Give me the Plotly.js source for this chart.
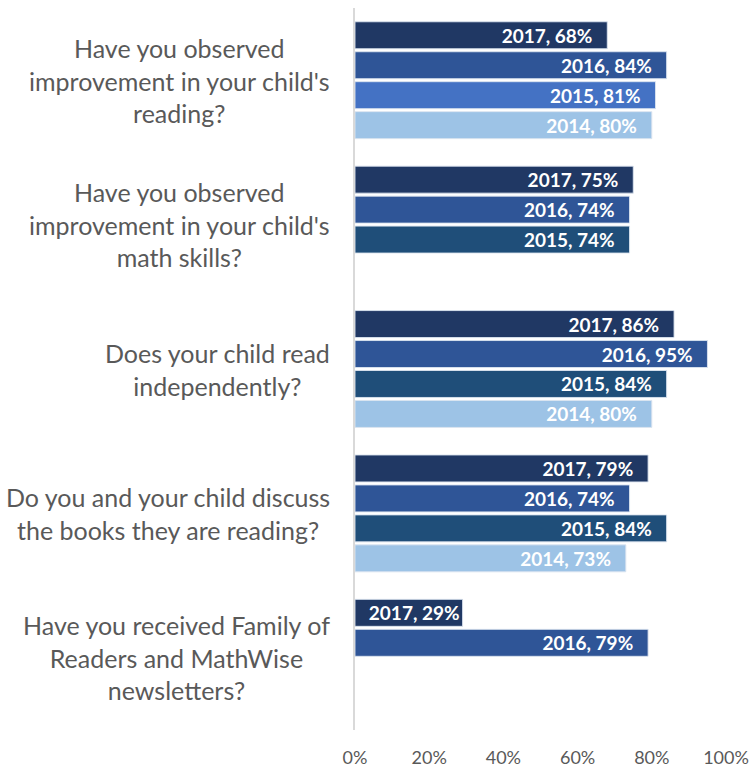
<!DOCTYPE html>
<html>
<head>
<meta charset="utf-8">
<script src="https://cdn.plot.ly/plotly-3.0.1.min.js"></script>
<style>html,body{margin:0;padding:0;background:#fff;}#chart{width:749px;height:768px;}</style>
</head>
<body>
<div id="chart"></div>
<script>
const categories = [
  "Have you observed<br>improvement in your child's<br>reading?",
  "Have you observed<br>improvement in your child's<br>math skills?",
  "Does your child read<br>independently?",
  "Do you and your child discuss<br>the books they are reading?",
  "Have you received Family of<br>Readers and MathWise<br>newsletters?"
];
const years = ["2017", "2016", "2015", "2014"];
const v2017 = [68, 75, 86, 79, 29];
const v2016 = [84, 74, 95, 74, 79];
const v2015 = [81, 74, 84, 84, null];
const v2014 = [80, null, 80, 73, null];
const xTicks = [0, 20, 40, 60, 80, 100];

const series = [v2017, v2016, v2015, v2014];
const colors = [
  ["#203864", "#203864", "#203864", "#203864", "#203864"],
  ["#2F5597", "#2F5597", "#2F5597", "#2F5597", "#2F5597"],
  ["#4472C4", "#1F4E79", "#1F4E79", "#1F4E79", "#1F4E79"],
  ["#9DC3E6", "#9DC3E6", "#9DC3E6", "#9DC3E6", "#9DC3E6"]
];

const traces = series.map((vals, i) => ({
  type: 'bar',
  orientation: 'h',
  name: years[i],
  y: categories,
  x: vals,
  marker: {color: colors[i], line: {color: 'rgba(220,228,240,0.9)', width: 1}},
  text: vals.map(v => v == null ? '' : (years[i] + ', ' + v + '%' + (v > 40 ? '\u2002\u2009' : ''))),
  textposition: 'inside',
  insidetextanchor: 'end',
  textangle: 0,
  constraintext: 'none',
  textfont: {family: 'Lato', size: 19, color: '#ffffff', weight: 'bold'},
  hoverinfo: 'skip',
  cliponaxis: false
}));

const annotations = categories.map(c => ({
  xref: 'paper', yref: 'y',
  x: -0.062, y: c,
  xanchor: 'right', yanchor: 'middle',
  align: 'center',
  text: c,
  showarrow: false,
  font: {family: 'Lato', size: 25, color: '#595959'}
}));

const layout = {
  width: 749, height: 768,
  margin: {l: 355, r: 23, t: 8, b: 38},
  paper_bgcolor: '#ffffff', plot_bgcolor: '#ffffff',
  barmode: 'group',
  bargap: 0.17,
  bargroupgap: 0.1,
  showlegend: false,
  xaxis: {
    range: [0, 100],
    tickvals: xTicks,
    ticktext: xTicks.map(t => t + '%'),
    showgrid: false, zeroline: false, showline: false,
    ticks: '',
    ticklabelstandoff: 15,
    tickfont: {family: 'Lato', size: 18, color: '#595959'},
    fixedrange: true
  },
  yaxis: {
    autorange: 'reversed',
    showticklabels: false,
    showgrid: false, zeroline: false,
    showline: true, linecolor: '#D9D9D9', linewidth: 2,
    ticks: '',
    fixedrange: true
  },
  annotations: annotations
};

Plotly.newPlot('chart', traces, layout, {displayModeBar: false, staticPlot: true});
</script>
</body>
</html>
